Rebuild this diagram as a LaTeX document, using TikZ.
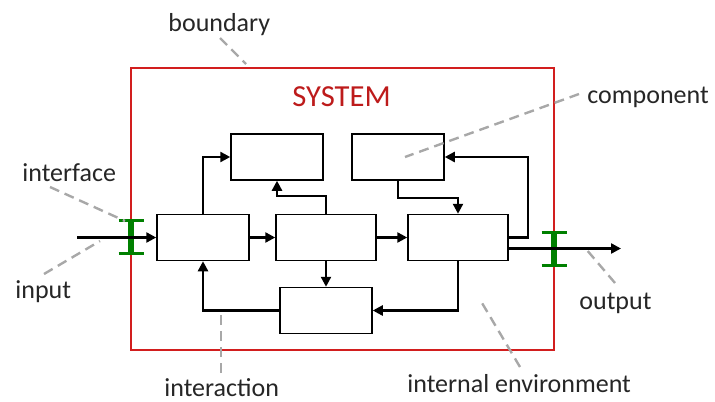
\documentclass[tikz,border=0pt]{standalone}
\usepackage{fontspec}
\setmainfont{Carlito}
\usepackage{tikz}
\usetikzlibrary{arrows.meta}

\definecolor{sysred}{RGB}{210,30,30}
\definecolor{ifgreen}{RGB}{0,128,0}
\definecolor{guidegray}{RGB}{168,168,168}

\begin{document}
\begin{tikzpicture}[x=0.5pt, y=-0.5pt,
  blk/.style={draw, line width=0.75pt, minimum width=46pt, minimum height=23pt, inner sep=0pt},
  wideblk/.style={blk, minimum width=50pt},
  flow/.style={line width=1.2pt, -{Triangle[length=5pt,width=5pt]}},
  guide/.style={guidegray, line width=1.2pt, dash pattern=on 5pt off 3pt},
  lbl/.style={anchor=base west, inner sep=0pt, text=black!85, font=\fontsize{13}{15}\selectfont},
  ibeam/.pic={
    \draw[ifgreen, line width=3pt] (0,-16.5) -- (0,16.5);
    \draw[ifgreen, line width=1.5pt] (-12.5,-16.5) -- (12.5,-16.5) (-12.5,16.5) -- (12.5,16.5);
  }]
\useasboundingbox (0,0) rectangle (715,401);

% system boundary
\node[draw=sysred, line width=0.6pt, minimum width=211.5pt, minimum height=141pt] (sys) at (342.5,209) {};
\node[anchor=base west, inner sep=0pt, text=sysred!90!black, font=\fontsize{15.3}{18}\selectfont] (lsys) at (292,106) {SYSTEM};

% components
\node[blk] (b1) at (203,237.5) {};
\node[blk] (b2) at (277,157) {};
\node[wideblk] (b3) at (326,237.5) {};
\node[blk] (b4) at (398,157) {};
\node[wideblk] (b5) at (458,237.5) {};
\node[blk] (b6) at (326,310.5) {};

% interfaces
\coordinate (ifin) at (131,236.5);
\coordinate (ifout) at (554,248.5);
\pic at (ifin) {ibeam};
\pic at (ifout) {ibeam};

% labels
\node[lbl] (lbound) at (168,32) {boundary};
\node[lbl] (linter) at (22,181) {interface};
\node[lbl] (linput) at (15,298) {input};
\node[lbl] (lcomp) at (587,103) {component};
\node[lbl] (laction) at (164,396) {interaction};
\node[lbl] (lenv) at (407,392) {internal environment};
\node[lbl] (lout) at (579,309) {output};

\coordinate (bndtip) at (246,64);
\coordinate (iftip) at (125,221);
\coordinate (intip) at (100,241);
\coordinate (comptip) at (405,157);
\coordinate (actiontip) at (221,310);
\coordinate (envtip) at (482,303);
\coordinate (outtip) at (586,249);

\draw[guide] ([shift={(52,6)}]lbound.base west) -- (bndtip);
\draw[guide] ([shift={(28,6)}]linter.base west) -- (iftip);
\draw[guide] ([shift={(29,-24)}]linput.base west) -- (intip);
\draw[guide] ([shift={(-8,-9)}]lcomp.base west) -- (comptip);
\draw[guide] ([shift={(57,-23)}]laction.base west) -- (actiontip);
\draw[guide] ([shift={(113,-25)}]lenv.base west) -- (envtip);
\draw[guide] ([shift={(36,-26)}]lout.base west) -- (outtip);

% flows
\coordinate (src) at (77,237.5);
\coordinate (snk) at (621,248.5);
\draw[flow] (src) -- (b1.west);
\draw[flow] (b1) -- (b3);
\draw[flow] (b3) -- (b5);
\draw[flow] (b1.north) |- (b2.west);
\draw[flow] (b3.north) -- ++(0,-18) -| (b2.south);
\draw[flow] (b4.south) -- ++(0,17) -| (b5.north);
\draw[flow] (b5.east) -- ++(19,0) |- (b4.east);
\draw[flow] ([shift={(0,11)}]b5.east) -- (snk);
\draw[flow] (b3) -- (b6);
\draw[flow] (b5.south) |- (b6.east);
\draw[flow] (b6.west) -| (b1.south);
\end{tikzpicture}
\end{document}
